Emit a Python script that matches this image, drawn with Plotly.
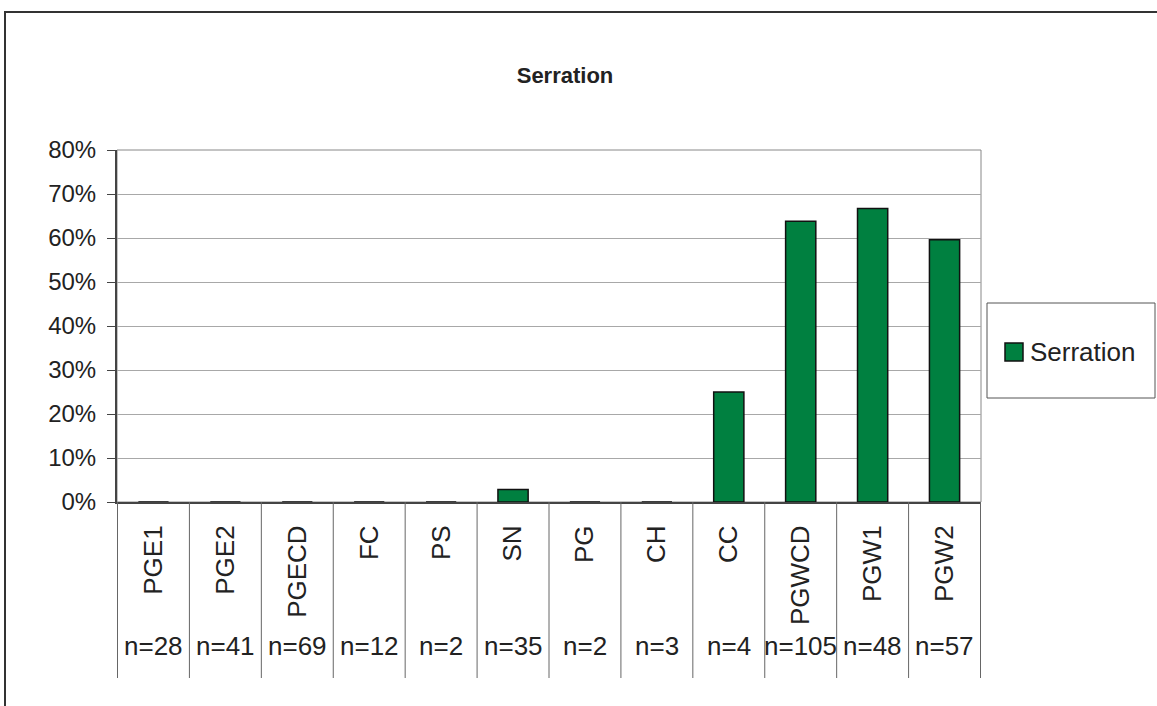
import plotly.graph_objects as go

# data
groups = ["PGE1", "PGE2", "PGECD", "FC", "PS", "SN", "PG", "CH", "CC", "PGWCD", "PGW1", "PGW2"]
counts = ["n=28", "n=41", "n=69", "n=12", "n=2", "n=35", "n=2", "n=3", "n=4", "n=105", "n=48", "n=57"]
serration = [0, 0, 0, 0, 0, 0.0286, 0, 0, 0.25, 0.638, 0.667, 0.596]

W, H = 1157, 706
left, right, top, bottom = 117, 981, 150, 502   # plot area in px
pw, ph = right - left, bottom - top


def px_x(x):
    return (x - left) / pw


def px_y(y):
    return (bottom - y) / ph


font = "Liberation Sans, Arial, sans-serif"
txt = "#222222"
green = "#008040"

fig = go.Figure()
fig.add_trace(go.Bar(
    x=groups, y=serration, name="Serration", showlegend=False,
    marker=dict(color=green, line=dict(color="#111111", width=1.5)),
))

shapes = []
# separators of the category table
for i in range(len(groups) + 1):
    shapes.append(dict(type="line", xref="x", yref="paper",
                       x0=i - 0.5, x1=i - 0.5, y0=px_y(678), y1=0,
                       line=dict(color="#666666", width=1)))
# plot area border (light right/top)
shapes.append(dict(type="rect", xref="paper", yref="paper",
                   x0=0, x1=1, y0=0, y1=1, layer="below",
                   line=dict(color="#888888", width=1)))
# legend box + key
shapes.append(dict(type="rect", xref="paper", yref="paper",
                   x0=px_x(987), x1=px_x(1155), y0=px_y(398), y1=px_y(303),
                   line=dict(color="#555555", width=1)))
shapes.append(dict(type="rect", xref="paper", yref="paper",
                   x0=px_x(1005), x1=px_x(1023), y0=px_y(361), y1=px_y(343),
                   fillcolor=green, line=dict(color="#111111", width=1.5)))
# outer chart frame
shapes.append(dict(type="rect", xref="paper", yref="paper",
                   x0=px_x(5), x1=px_x(1175), y0=px_y(720), y1=px_y(12),
                   line=dict(color="#333333", width=2)))

annotations = []
for g, c in zip(groups, counts):
    annotations.append(dict(x=g, y=px_y(663), xref="x", yref="paper",
                            text=c, showarrow=False,
                            font=dict(family=font, size=26, color=txt)))
annotations.append(dict(x=px_x(1028), y=px_y(352), xref="paper", yref="paper",
                        xanchor="left", yanchor="middle", text="Serration",
                        showarrow=False,
                        font=dict(family=font, size=26, color=txt)))

fig.update_layout(
    width=W, height=H,
    margin=dict(l=left, r=W - right, t=top, b=H - bottom),
    paper_bgcolor="white", plot_bgcolor="white",
    title=dict(text="<b>Serration</b>", x=565 / W, xanchor="center",
               y=1 - 75 / H, yanchor="middle", yref="container",
               font=dict(family=font, size=22, color=txt)),
    bargap=0.58,
    showlegend=False,
    shapes=shapes,
    annotations=annotations,
)
fig.update_yaxes(range=[0, 0.8], dtick=0.1, tickformat=".0%",
                 showgrid=True, gridcolor="#a8a8a8", gridwidth=1,
                 showline=True, linecolor="#444444", linewidth=2,
                 ticks="outside", ticklen=8, tickcolor="#444444",
                 ticklabelstandoff=6,
                 tickfont=dict(family=font, size=24, color=txt),
                 zeroline=False, fixedrange=True)
fig.update_xaxes(showline=True, linecolor="#444444", linewidth=2,
                 ticks="", tickangle=-90, ticklabelstandoff=11,
                 tickfont=dict(family=font, size=26, color=txt),
                 fixedrange=True)

# drop the default body margin so the figure sits at the page corner
fig.write_html("out.html", config={"displayModeBar": False},
               post_script="document.body.style.margin='0';")
